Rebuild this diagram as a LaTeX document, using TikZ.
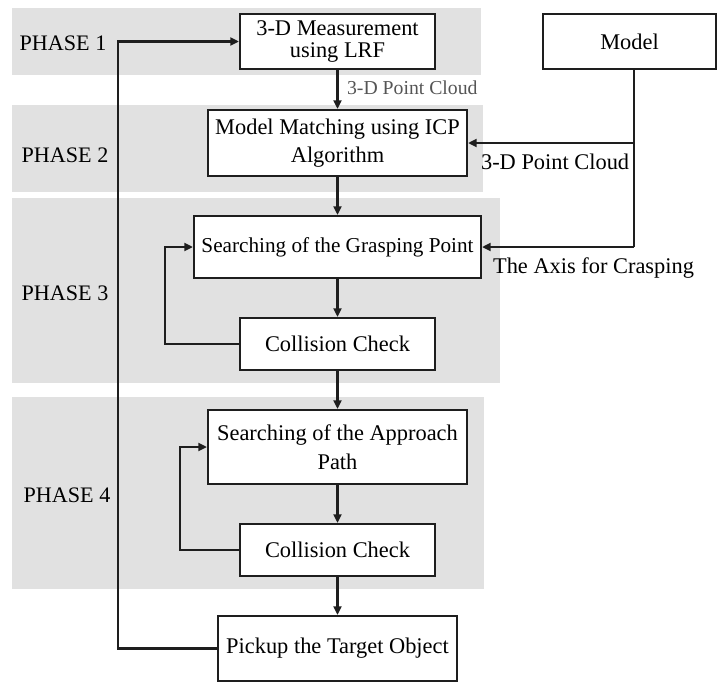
\documentclass[tikz,border=0pt]{standalone}
\usepackage{fontspec}
\setmainfont{Liberation Serif}
\usetikzlibrary{arrows.meta}

\definecolor{bandgray}{RGB}{225,225,225}
\definecolor{edgegray}{RGB}{30,30,30}
\definecolor{notegray}{RGB}{85,85,85}

\tikzset{every picture/.style={line width=1.6pt}}
\tikzset{
  stepnode/.style={draw=edgegray, fill=white, inner sep=0pt, align=center,
    font=\fontsize{16.8}{16.5}\selectfont},
  phaselabel/.style={inner sep=0pt, font=\fontsize{16.6}{20}\selectfont},
  flow/.style={draw=edgegray, -{Triangle[length=6.5pt,width=6pt]}},
  plainline/.style={draw=edgegray},
  notelabel/.style={anchor=west, inner sep=0pt, font=\fontsize{16.8}{20}\selectfont}
}

\begin{document}
\begin{tikzpicture}[x=0.75pt,y=0.75pt,yscale=-1,xscale=1]
        \useasboundingbox (0,0) rectangle (717,682);

        %Shape: Rectangle [phase bands]
        \fill [bandgray] (12,8) rectangle (481,75);
        \fill [bandgray] (12,105) rectangle (483,192);
        \fill [bandgray] (12,198) rectangle (500,383);
        \fill [bandgray] (12,397) rectangle (484,589);

        % Text Node
        \node [phaselabel] (ph1) at (63,43) {PHASE 1};
        % Text Node
        \node [phaselabel] (ph2) at (65,155) {PHASE 2};
        % Text Node
        \node [phaselabel] (ph3) at (65,293) {PHASE 3};
        % Text Node
        \node [phaselabel] (ph4) at (67,495) {PHASE 4};

        %Shape: Rectangle [steps]
        \node [stepnode, minimum width=146.25pt, minimum height=41.25pt] (meas) at (337.5,41.5) {3-D Measurement\\using LRF};
        \node [stepnode, minimum width=129.75pt, minimum height=41.25pt] (model) at (629.5,41.5) {Model};
        \node [stepnode, minimum width=194.25pt, minimum height=49.5pt] (match) at (337.5,143) {Model Matching using ICP\\[5pt]Algorithm};
        \node [stepnode, minimum width=215.25pt, minimum height=46.5pt, font=\fontsize{15.9}{16.5}\selectfont] (grasp) at (337.5,247) {Searching of the Grasping Point};
        \node [stepnode, minimum width=146.25pt, minimum height=39pt] (chk1) at (337.5,344) {Collision Check};
        \node [stepnode, minimum width=194.25pt, minimum height=55.5pt] (appr) at (337.5,447) {Searching of the Approach\\[5pt]Path};
        \node [stepnode, minimum width=146.25pt, minimum height=39pt] (chk2) at (337.5,550) {Collision Check};
        \node [stepnode, minimum width=179.25pt, minimum height=48.75pt] (pick) at (337.5,648.5) {Pickup the Target Object};

        %Straight Lines [helper coordinates]
        \coordinate (lp1) at (118,0);
        \coordinate (lp3) at (165,0);
        \coordinate (lp4) at (180,0);
        \coordinate (tap) at (634,247);

        %Straight Lines [main flow]
        \draw [flow] (meas) -- (match);
        \draw [flow] (match) -- (grasp);
        \draw [flow] (grasp) -- (chk1);
        \draw [flow] (chk1) -- (appr);
        \draw [flow] (appr) -- (chk2);
        \draw [flow] (chk2) -- (pick);

        %Straight Lines [loops]
        \draw [flow] (chk1.west) -- (chk1.west -| lp3) |- (grasp.west);
        \draw [flow] (chk2.west) -- (chk2.west -| lp4) |- (appr.west);
        \draw [flow] (pick.west) -- (pick.west -| lp1) |- (meas.west);

        %Straight Lines [model feed]
        \draw [plainline] (model.south -| tap) -- (tap);
        \draw [flow] (tap) -- (grasp.east);
        \draw [flow] (tap |- match.east) -- (match.east);

        % Text Node
        \node [notelabel, text=notegray, font=\fontsize{14.8}{18}\selectfont] (pc1) at (346,88) {3-D Point Cloud};
        % Text Node
        \node [notelabel] (pc2) at (480,162) {3-D Point Cloud};
        % Text Node
        \node [notelabel] (axis) at (492,268) {The Axis for Crasping};

\end{tikzpicture}
\end{document}
